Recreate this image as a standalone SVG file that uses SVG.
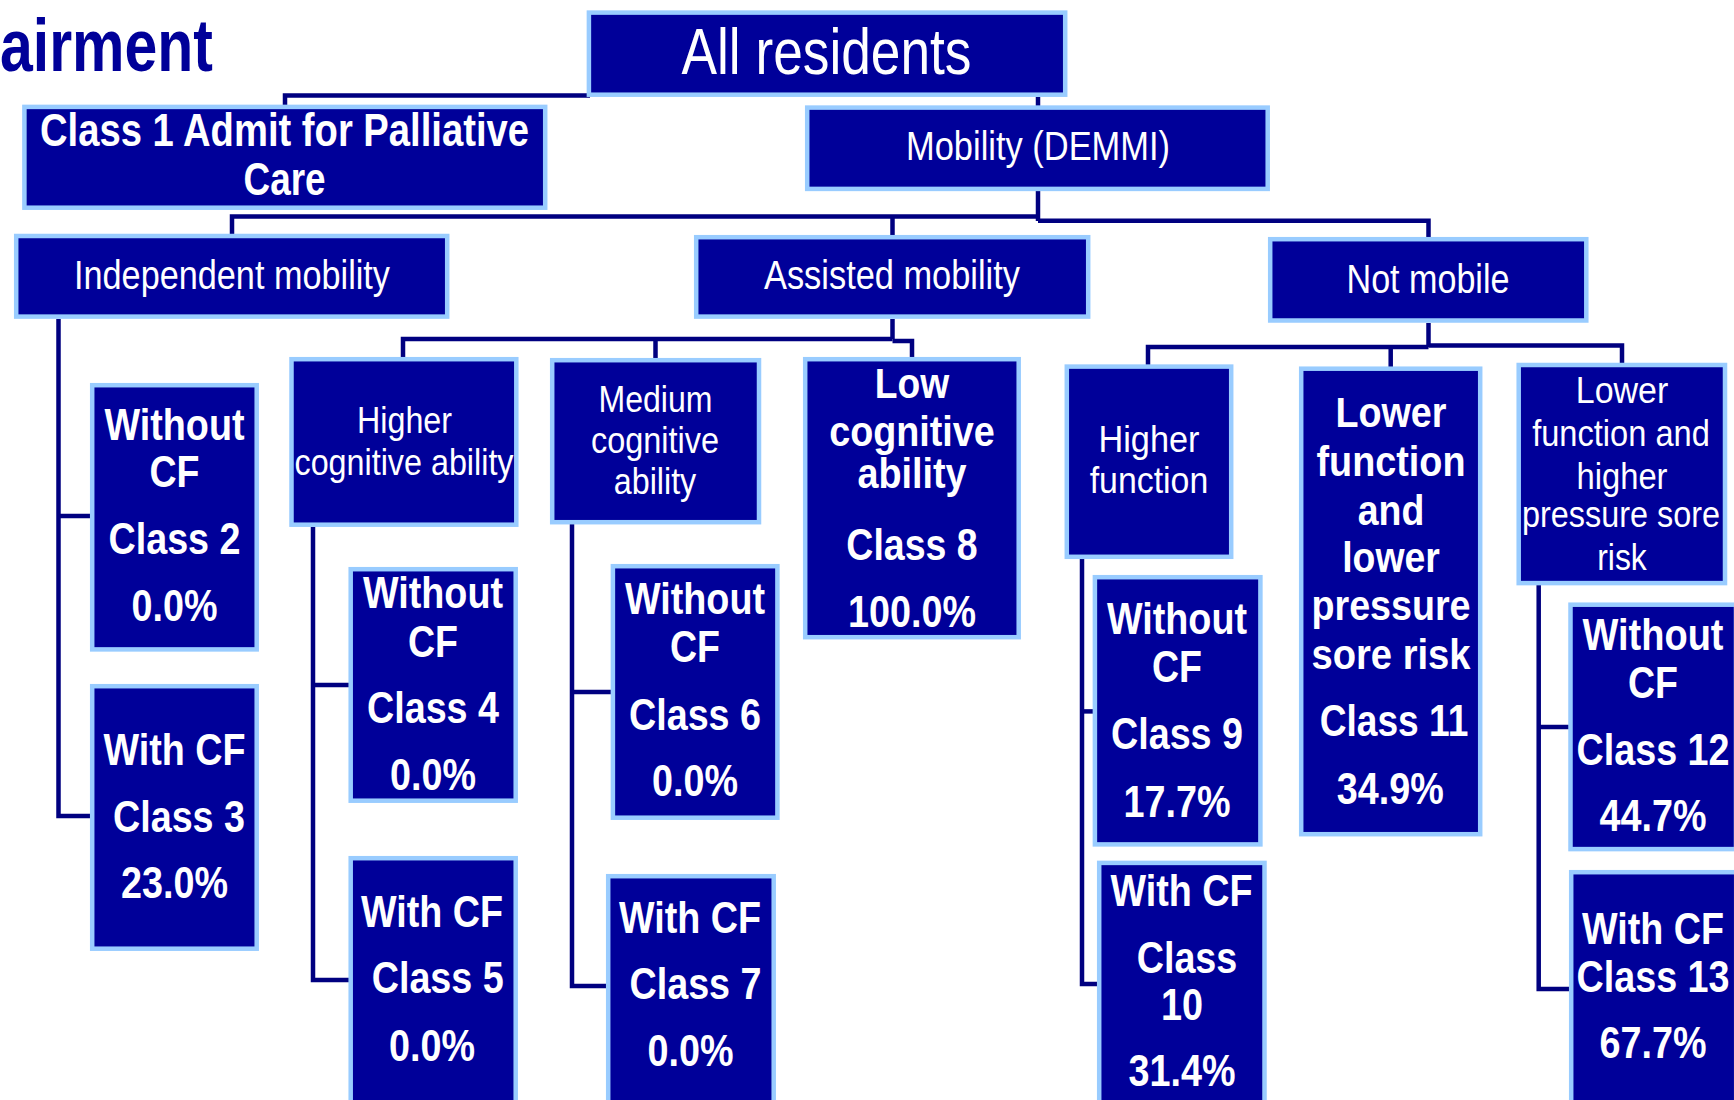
<svg xmlns="http://www.w3.org/2000/svg" width="1734" height="1100" viewBox="0 0 1734 1100">
<style>
.box{fill:#000099;stroke:#99CCFF;stroke-width:4.5}
.conn{fill:none;stroke:#000080;stroke-width:4.5;stroke-linejoin:miter;stroke-linecap:butt}
.t{font-family:"Liberation Sans",Arial,sans-serif;fill:#ffffff;text-anchor:middle}
.b{font-weight:bold}
.r36{font-size:36px}.r37{font-size:37px}.r41{font-size:41px}
.b42{font-size:42px;font-weight:bold}.b44{font-size:44px;font-weight:bold}
.title{font-family:"Liberation Sans",Arial,sans-serif;font-weight:bold;font-size:74px;fill:#000099}
</style>
<rect width="1734" height="1100" fill="#ffffff"/>
<text class="title" x="0" y="71" textLength="213" lengthAdjust="spacingAndGlyphs">airment</text>

<g id="connectors">
<path class="conn" d="M285,106 V95.5 H590"/>
<path class="conn" d="M1038,97 V107"/>
<path class="conn" d="M1038,191 V221"/>
<path class="conn" d="M232,235 V216.5 H1038"/>
<path class="conn" d="M1038,220.8 H1428.5 V238"/>
<path class="conn" d="M892.5,216.5 V236"/>
<path class="conn" d="M58.5,319 V816 H92"/>
<path class="conn" d="M58.5,516 H92"/>
<path class="conn" d="M892.5,319 V339"/>
<path class="conn" d="M403,358 V339 H892.5"/>
<path class="conn" d="M892.5,341 H912 V358"/>
<path class="conn" d="M655.5,339 V359"/>
<path class="conn" d="M313,527 V980 H350"/>
<path class="conn" d="M313,685 H350"/>
<path class="conn" d="M572,524 V986 H608"/>
<path class="conn" d="M572,692 H612"/>
<path class="conn" d="M1428.5,323 V347"/>
<path class="conn" d="M1148,365 V347 H1428.5"/>
<path class="conn" d="M1428.5,345.5 H1622 V364"/>
<path class="conn" d="M1390.7,347 V368"/>
<path class="conn" d="M1082,559 V984 H1098"/>
<path class="conn" d="M1082,711.4 H1094"/>
<path class="conn" d="M1538.7,585 V989 H1570"/>
<path class="conn" d="M1538.7,727 H1569"/>
</g>

<g id="all-residents">
<rect class="box" x="588.9" y="12.6" width="476.3" height="82.1"/>
<text class="t" style="font-size:65px" x="826.5" y="74" textLength="290" lengthAdjust="spacingAndGlyphs">All residents</text>
</g>

<g id="class1">
<rect class="box" x="24.4" y="106.9" width="520.8" height="100.8"/>
<text class="t" style="font-size:46px;font-weight:bold" x="284.5" y="146" textLength="489" lengthAdjust="spacingAndGlyphs">Class 1 Admit for Palliative</text>
<text class="t" style="font-size:46px;font-weight:bold" x="284.5" y="195" textLength="82" lengthAdjust="spacingAndGlyphs">Care</text>
</g>

<g id="mobility">
<rect class="box" x="807.2" y="107.6" width="460.5" height="81.3"/>
<text class="t r41" x="1038" y="160" textLength="264" lengthAdjust="spacingAndGlyphs">Mobility (DEMMI)</text>
</g>

<g id="independent">
<rect class="box" x="16.2" y="236" width="431" height="80.6"/>
<text class="t r41" x="232" y="288.5" textLength="316" lengthAdjust="spacingAndGlyphs">Independent mobility</text>
</g>

<g id="assisted">
<rect class="box" x="696.2" y="237.2" width="392" height="79.4"/>
<text class="t r41" x="892" y="288.5" textLength="256" lengthAdjust="spacingAndGlyphs">Assisted mobility</text>
</g>

<g id="not-mobile">
<rect class="box" x="1270.2" y="239.2" width="316.1" height="81.3"/>
<text class="t r41" x="1428" y="292.5" textLength="163" lengthAdjust="spacingAndGlyphs">Not mobile</text>
</g>

<g id="class2">
<rect class="box" x="92.2" y="385.2" width="164.5" height="264.2"/>
<text class="t b44" x="174.5" y="439.5" textLength="140" lengthAdjust="spacingAndGlyphs">Without</text>
<text class="t b44" x="174.5" y="486.5" textLength="50" lengthAdjust="spacingAndGlyphs">CF</text>
<text class="t b44" x="174.5" y="553.5" textLength="132" lengthAdjust="spacingAndGlyphs">Class 2</text>
<text class="t b44" x="174.5" y="620.7" textLength="86" lengthAdjust="spacingAndGlyphs">0.0%</text>
</g>

<g id="class3">
<rect class="box" x="92.2" y="686.2" width="164.5" height="262.5"/>
<text class="t b44" x="174.5" y="765" textLength="142" lengthAdjust="spacingAndGlyphs">With CF</text>
<text class="t b44" x="179" y="832" textLength="132" lengthAdjust="spacingAndGlyphs">Class 3</text>
<text class="t b44" x="174.5" y="898" textLength="107" lengthAdjust="spacingAndGlyphs">23.0%</text>
</g>

<g id="higher-cognitive">
<rect class="box" x="291.5" y="359.2" width="224.8" height="165.5"/>
<text class="t r37" x="404.5" y="433" textLength="95" lengthAdjust="spacingAndGlyphs">Higher</text>
<text class="t r37" x="404" y="474.6" textLength="219" lengthAdjust="spacingAndGlyphs">cognitive ability</text>
</g>

<g id="class4">
<rect class="box" x="350.7" y="569.2" width="165" height="231.5"/>
<text class="t b44" x="433" y="607.5" textLength="140" lengthAdjust="spacingAndGlyphs">Without</text>
<text class="t b44" x="433" y="657" textLength="50" lengthAdjust="spacingAndGlyphs">CF</text>
<text class="t b44" x="433" y="723" textLength="132" lengthAdjust="spacingAndGlyphs">Class 4</text>
<text class="t b44" x="433" y="790" textLength="86" lengthAdjust="spacingAndGlyphs">0.0%</text>
</g>

<g id="class5">
<rect class="box" x="350.7" y="858.2" width="165" height="260"/>
<text class="t b44" x="432" y="927" textLength="142" lengthAdjust="spacingAndGlyphs">With CF</text>
<text class="t b44" x="437.7" y="992.6" textLength="132" lengthAdjust="spacingAndGlyphs">Class 5</text>
<text class="t b44" x="432" y="1060.6" textLength="86" lengthAdjust="spacingAndGlyphs">0.0%</text>
</g>

<g id="medium-cognitive">
<rect class="box" x="552.2" y="360.2" width="206.8" height="162"/>
<text class="t r37" x="655.5" y="412.4" textLength="114" lengthAdjust="spacingAndGlyphs">Medium</text>
<text class="t r37" x="655" y="453" textLength="128" lengthAdjust="spacingAndGlyphs">cognitive</text>
<text class="t r37" x="655" y="494" textLength="82.5" lengthAdjust="spacingAndGlyphs">ability</text>
</g>

<g id="class6">
<rect class="box" x="612.9" y="566.2" width="164.5" height="251.5"/>
<text class="t b44" x="695" y="614" textLength="140" lengthAdjust="spacingAndGlyphs">Without</text>
<text class="t b44" x="695" y="662" textLength="50" lengthAdjust="spacingAndGlyphs">CF</text>
<text class="t b44" x="695" y="730" textLength="132" lengthAdjust="spacingAndGlyphs">Class 6</text>
<text class="t b44" x="695" y="796" textLength="86" lengthAdjust="spacingAndGlyphs">0.0%</text>
</g>

<g id="class7">
<rect class="box" x="608.2" y="876.2" width="165.5" height="250"/>
<text class="t b44" x="690" y="932.6" textLength="142" lengthAdjust="spacingAndGlyphs">With CF</text>
<text class="t b44" x="695.5" y="999" textLength="132" lengthAdjust="spacingAndGlyphs">Class 7</text>
<text class="t b44" x="690.5" y="1066" textLength="86" lengthAdjust="spacingAndGlyphs">0.0%</text>
</g>

<g id="low-cognitive">
<rect class="box" x="805.2" y="359.2" width="213.5" height="278"/>
<text class="t b42" x="912" y="397.6" textLength="74.4" lengthAdjust="spacingAndGlyphs">Low</text>
<text class="t b42" x="912" y="445.7" textLength="165.7" lengthAdjust="spacingAndGlyphs">cognitive</text>
<text class="t b42" x="912" y="488.3" textLength="109" lengthAdjust="spacingAndGlyphs">ability</text>
<text class="t b44" x="912" y="560.4" textLength="131.3" lengthAdjust="spacingAndGlyphs">Class 8</text>
<text class="t b44" x="912" y="626.5" textLength="128" lengthAdjust="spacingAndGlyphs">100.0%</text>
</g>

<g id="higher-function">
<rect class="box" x="1066.8" y="366.6" width="164.4" height="190.2"/>
<text class="t r36" x="1149" y="451.7" textLength="101" lengthAdjust="spacingAndGlyphs">Higher</text>
<text class="t r36" x="1149" y="493.3" textLength="118.6" lengthAdjust="spacingAndGlyphs">function</text>
</g>

<g id="class9">
<rect class="box" x="1094.9" y="577.2" width="165.5" height="267.2"/>
<text class="t b44" x="1177" y="634" textLength="140" lengthAdjust="spacingAndGlyphs">Without</text>
<text class="t b44" x="1177" y="681.7" textLength="50" lengthAdjust="spacingAndGlyphs">CF</text>
<text class="t b44" x="1177" y="749.3" textLength="132" lengthAdjust="spacingAndGlyphs">Class 9</text>
<text class="t b44" x="1177" y="816.7" textLength="107" lengthAdjust="spacingAndGlyphs">17.7%</text>
</g>

<g id="class10">
<rect class="box" x="1099.2" y="862.9" width="165.3" height="260"/>
<text class="t b44" x="1181.5" y="906" textLength="142" lengthAdjust="spacingAndGlyphs">With CF</text>
<text class="t b44" x="1187" y="973" textLength="100.6" lengthAdjust="spacingAndGlyphs">Class</text>
<text class="t b44" x="1182" y="1020" textLength="42" lengthAdjust="spacingAndGlyphs">10</text>
<text class="t b44" x="1182" y="1086" textLength="107" lengthAdjust="spacingAndGlyphs">31.4%</text>
</g>

<g id="lower-function-lower-risk">
<rect class="box" x="1301.2" y="368.7" width="179" height="465.5"/>
<text class="t b42" x="1391" y="427" textLength="111" lengthAdjust="spacingAndGlyphs">Lower</text>
<text class="t b42" x="1391" y="475.6" textLength="149" lengthAdjust="spacingAndGlyphs">function</text>
<text class="t b42" x="1391" y="524.8" textLength="66.6" lengthAdjust="spacingAndGlyphs">and</text>
<text class="t b42" x="1391" y="571.8" textLength="97.6" lengthAdjust="spacingAndGlyphs">lower</text>
<text class="t b42" x="1391" y="619.8" textLength="159" lengthAdjust="spacingAndGlyphs">pressure</text>
<text class="t b42" x="1391" y="669" textLength="159" lengthAdjust="spacingAndGlyphs">sore risk</text>
<text class="t b44" x="1394" y="736" textLength="148.7" lengthAdjust="spacingAndGlyphs">Class 11</text>
<text class="t b44" x="1390.3" y="803.6" textLength="107" lengthAdjust="spacingAndGlyphs">34.9%</text>
</g>

<g id="lower-function-higher-risk">
<rect class="box" x="1518.7" y="365" width="206.3" height="218.1"/>
<text class="t r36" x="1622" y="403.4" textLength="92.5" lengthAdjust="spacingAndGlyphs">Lower</text>
<text class="t r36" x="1621" y="446" textLength="177.6" lengthAdjust="spacingAndGlyphs">function and</text>
<text class="t r36" x="1622" y="488.5" textLength="91" lengthAdjust="spacingAndGlyphs">higher</text>
<text class="t r36" x="1621" y="527.4" textLength="198" lengthAdjust="spacingAndGlyphs">pressure sore</text>
<text class="t r36" x="1622" y="570" textLength="49.6" lengthAdjust="spacingAndGlyphs">risk</text>
</g>

<g id="class12">
<rect class="box" x="1570.5" y="604.7" width="165.5" height="244.4"/>
<text class="t b44" x="1653" y="650" textLength="141" lengthAdjust="spacingAndGlyphs">Without</text>
<text class="t b44" x="1653" y="697.5" textLength="50" lengthAdjust="spacingAndGlyphs">CF</text>
<text class="t b44" x="1653" y="764.5" textLength="153" lengthAdjust="spacingAndGlyphs">Class 12</text>
<text class="t b44" x="1653" y="831" textLength="107" lengthAdjust="spacingAndGlyphs">44.7%</text>
</g>

<g id="class13">
<rect class="box" x="1571.2" y="872.2" width="165" height="250"/>
<text class="t b44" x="1653" y="943.6" textLength="142" lengthAdjust="spacingAndGlyphs">With CF</text>
<text class="t b44" x="1653" y="991.8" textLength="153" lengthAdjust="spacingAndGlyphs">Class 13</text>
<text class="t b44" x="1653" y="1057.9" textLength="107" lengthAdjust="spacingAndGlyphs">67.7%</text>
</g>
</svg>
